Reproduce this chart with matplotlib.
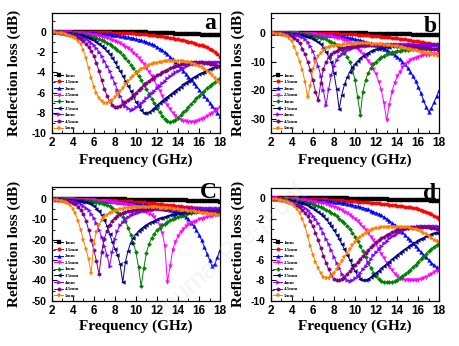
import numpy as np
import matplotlib
matplotlib.use('Agg')
import matplotlib.pyplot as plt
from matplotlib.ticker import MultipleLocator

plt.rcParams['font.family'] = ['Liberation Sans', 'DejaVu Sans']
plt.rcParams['font.weight'] = 'bold'
plt.rcParams['axes.unicode_minus'] = False

# frequency sweep 2-18 GHz, 0.25 GHz step
freq = np.linspace(2, 18, 65)
thickness = ['1mm', '1.5mm', '2mm', '2.5mm', '3mm', '3.5mm', '4mm', '4.5mm', '5mm']

# ---- (a) reflection loss, dB
a_1mm = [0, 0, 0, 0, 0, 0, 0, 0,
         0, 0, 0, 0, 0, 0, 0, 0,
         0, 0, 0, 0, 0, 0, -0.01, -0.01,
         -0.02, -0.02, -0.03, -0.03, -0.04, -0.04, -0.05, -0.05,
         -0.06, -0.06, -0.07, -0.07, -0.08, -0.09, -0.1, -0.11,
         -0.12, -0.13, -0.14, -0.15, -0.16, -0.17, -0.18, -0.19,
         -0.2, -0.21, -0.22, -0.23, -0.24, -0.25, -0.26, -0.27,
         -0.28, -0.29, -0.3, -0.31, -0.32, -0.33, -0.34, -0.35,
         -0.36]
a_15mm = [0, 0, 0, 0, 0, 0, 0, 0,
          -0.01, -0.01, -0.01, -0.01, -0.02, -0.02, -0.03, -0.03,
          -0.04, -0.04, -0.05, -0.05, -0.06, -0.07, -0.08, -0.09,
          -0.1, -0.11, -0.12, -0.13, -0.14, -0.15, -0.17, -0.18,
          -0.2, -0.22, -0.24, -0.26, -0.28, -0.3, -0.33, -0.36,
          -0.4, -0.44, -0.48, -0.52, -0.56, -0.6, -0.65, -0.7,
          -0.75, -0.81, -0.87, -0.93, -1.0, -1.06, -1.13, -1.2,
          -1.28, -1.36, -1.45, -1.55, -1.68, -1.83, -2.0, -2.2,
          -2.45]
a_2mm = [0, -0.01, -0.01, -0.02, -0.02, -0.03, -0.03, -0.04,
         -0.05, -0.06, -0.07, -0.08, -0.09, -0.1, -0.12, -0.13,
         -0.15, -0.17, -0.19, -0.21, -0.23, -0.25, -0.28, -0.31,
         -0.34, -0.37, -0.41, -0.45, -0.5, -0.55, -0.6, -0.66,
         -0.72, -0.79, -0.86, -0.94, -1.03, -1.13, -1.23, -1.36,
         -1.5, -1.67, -1.85, -2.05, -2.25, -2.47, -2.7, -2.97,
         -3.25, -3.55, -3.85, -4.15, -4.45, -4.75, -5.05, -5.37,
         -5.7, -6.02, -6.35, -6.67, -7.0, -7.32, -7.65, -7.97,
         -8.3]
a_25mm = [0, -0.01, -0.02, -0.03, -0.04, -0.05, -0.07, -0.08,
          -0.1, -0.12, -0.14, -0.16, -0.19, -0.22, -0.25, -0.29,
          -0.33, -0.38, -0.43, -0.49, -0.56, -0.64, -0.73, -0.83,
          -0.93, -1.05, -1.17, -1.31, -1.47, -1.65, -1.85, -2.07,
          -2.3, -2.57, -2.85, -3.2, -3.55, -3.95, -4.35, -4.8,
          -5.3, -5.8, -6.3, -6.8, -7.25, -7.65, -8.0, -8.28,
          -8.5, -8.65, -8.75, -8.82, -8.85, -8.86, -8.85, -8.8,
          -8.7, -8.58, -8.45, -8.3, -8.15, -7.98, -7.8, -7.6,
          -7.4]
a_3mm = [-0.02, -0.03, -0.04, -0.05, -0.07, -0.09, -0.11, -0.13,
         -0.16, -0.19, -0.23, -0.27, -0.32, -0.37, -0.43, -0.5,
         -0.57, -0.66, -0.75, -0.86, -0.97, -1.1, -1.25, -1.42,
         -1.6, -1.82, -2.05, -2.32, -2.6, -2.92, -3.25, -3.6,
         -3.95, -4.35, -4.75, -5.2, -5.65, -6.12, -6.6, -7.05,
         -7.5, -7.92, -8.3, -8.6, -8.8, -8.85, -8.8, -8.65,
         -8.45, -8.2, -7.95, -7.68, -7.4, -7.12, -6.85, -6.57,
         -6.3, -6.05, -5.8, -5.57, -5.35, -5.15, -4.95, -4.77,
         -4.6]
a_35mm = [-0.02, -0.03, -0.05, -0.07, -0.09, -0.11, -0.14, -0.17,
          -0.21, -0.25, -0.3, -0.36, -0.42, -0.5, -0.6, -0.72,
          -0.85, -1.02, -1.2, -1.42, -1.65, -1.93, -2.25, -2.6,
          -3.0, -3.45, -3.9, -4.37, -4.85, -5.32, -5.8, -6.35,
          -6.9, -7.35, -7.75, -7.98, -8.05, -7.95, -7.75, -7.5,
          -7.25, -7.02, -6.8, -6.6, -6.4, -6.2, -6.0, -5.8,
          -5.6, -5.4, -5.2, -5.02, -4.85, -4.67, -4.5, -4.35,
          -4.2, -4.07, -3.95, -3.82, -3.7, -3.6, -3.5, -3.42,
          -3.35]
a_4mm = [-0.03, -0.04, -0.06, -0.08, -0.11, -0.14, -0.18, -0.23,
         -0.28, -0.35, -0.42, -0.51, -0.62, -0.75, -0.9, -1.1,
         -1.35, -1.65, -2.0, -2.42, -2.9, -3.4, -3.9, -4.5,
         -5.1, -5.7, -6.3, -6.85, -7.3, -7.55, -7.68, -7.62,
         -7.45, -7.25, -7.05, -6.8, -6.55, -6.3, -6.05, -5.8,
         -5.55, -5.3, -5.05, -4.82, -4.6, -4.4, -4.2, -4.02,
         -3.85, -3.7, -3.55, -3.42, -3.3, -3.22, -3.15, -3.1,
         -3.05, -3.02, -3.0, -2.98, -2.96, -2.95, -2.95, -2.95,
         -2.95]
a_45mm = [-0.04, -0.06, -0.08, -0.11, -0.14, -0.19, -0.24, -0.3,
          -0.38, -0.48, -0.6, -0.75, -0.95, -1.2, -1.5, -1.9,
          -2.4, -3.1, -3.9, -4.8, -5.6, -6.3, -6.85, -7.2,
          -7.4, -7.4, -7.3, -7.15, -6.95, -6.73, -6.5, -6.25,
          -6.0, -5.75, -5.5, -5.27, -5.05, -4.85, -4.65, -4.47,
          -4.3, -4.15, -4.0, -3.87, -3.75, -3.62, -3.5, -3.4,
          -3.3, -3.22, -3.15, -3.1, -3.05, -3.02, -3.0, -3.0,
          -3.0, -3.02, -3.05, -3.1, -3.15, -3.22, -3.3, -3.4,
          -3.5]
a_5mm = [-0.05, -0.07, -0.1, -0.14, -0.18, -0.23, -0.3, -0.39,
         -0.5, -0.67, -0.9, -1.25, -1.8, -2.6, -3.6, -4.55,
         -5.4, -6.05, -6.55, -6.85, -7.0, -7.0, -6.9, -6.7,
         -6.45, -6.15, -5.85, -5.52, -5.2, -4.9, -4.6, -4.35,
         -4.1, -3.9, -3.7, -3.55, -3.4, -3.3, -3.2, -3.12,
         -3.05, -3.0, -2.95, -2.92, -2.9, -2.88, -2.85, -2.85,
         -2.85, -2.87, -2.9, -2.95, -3.0, -3.07, -3.15, -3.25,
         -3.35, -3.5, -3.65, -3.85, -4.05, -4.3, -4.55, -4.82,
         -5.1]

# ---- (b)
b_1mm = [0, 0, 0, 0, 0, 0, 0, 0,
         0, 0, 0, 0, 0, 0, 0, 0,
         -0.01, -0.01, -0.02, -0.02, -0.03, -0.03, -0.04, -0.04,
         -0.05, -0.06, -0.07, -0.08, -0.09, -0.1, -0.12, -0.13,
         -0.15, -0.16, -0.18, -0.2, -0.22, -0.24, -0.26, -0.28,
         -0.3, -0.32, -0.34, -0.36, -0.38, -0.4, -0.42, -0.44,
         -0.46, -0.48, -0.5, -0.52, -0.55, -0.57, -0.6, -0.62,
         -0.65, -0.68, -0.71, -0.74, -0.77, -0.8, -0.83, -0.86,
         -0.9]
b_15mm = [0, 0, 0, 0, 0, 0, -0.01, -0.01,
          -0.01, -0.02, -0.02, -0.03, -0.03, -0.04, -0.04, -0.05,
          -0.05, -0.06, -0.07, -0.08, -0.1, -0.12, -0.14, -0.17,
          -0.2, -0.23, -0.27, -0.31, -0.35, -0.4, -0.45, -0.5,
          -0.55, -0.61, -0.67, -0.73, -0.8, -0.87, -0.95, -1.02,
          -1.1, -1.2, -1.3, -1.4, -1.5, -1.61, -1.72, -1.83,
          -1.95, -2.07, -2.2, -2.32, -2.45, -2.58, -2.72, -2.86,
          -3.0, -3.15, -3.3, -3.45, -3.6, -3.75, -3.9, -4.05,
          -4.2]
b_2mm = [0, -0.01, -0.02, -0.03, -0.04, -0.05, -0.07, -0.08,
         -0.1, -0.12, -0.15, -0.17, -0.2, -0.23, -0.27, -0.31,
         -0.35, -0.4, -0.45, -0.51, -0.57, -0.64, -0.72, -0.8,
         -0.9, -1.0, -1.12, -1.25, -1.4, -1.57, -1.75, -1.95,
         -2.15, -2.37, -2.6, -2.85, -3.1, -3.4, -3.7, -4.02,
         -4.35, -4.7, -5.1, -5.55, -6.0, -6.55, -7.1, -7.75,
         -8.4, -9.15, -10.0, -11.0, -12.2, -13.5, -15.0, -16.8,
         -18.8, -21.0, -23.5, -25.8, -27.5, -26.3, -24.2, -22.0,
         -20.0]
b_25mm = [0, -0.01, -0.02, -0.03, -0.05, -0.07, -0.09, -0.11,
          -0.14, -0.17, -0.2, -0.24, -0.28, -0.33, -0.38, -0.44,
          -0.5, -0.58, -0.66, -0.75, -0.86, -0.98, -1.12, -1.28,
          -1.45, -1.65, -1.9, -2.2, -2.55, -2.95, -3.4, -4.05,
          -4.8, -5.6, -6.5, -7.5, -8.5, -9.7, -11.0, -12.6,
          -14.5, -17.0, -20.0, -24.5, -30.5, -25.0, -20.5, -17.5,
          -15.2, -13.5, -12.0, -11.0, -10.2, -9.55, -9.0, -8.6,
          -8.3, -8.05, -7.85, -7.7, -7.6, -7.52, -7.45, -7.4,
          -7.35]
b_3mm = [-0.02, -0.03, -0.05, -0.07, -0.09, -0.12, -0.15, -0.19,
         -0.23, -0.28, -0.34, -0.42, -0.5, -0.6, -0.7, -0.85,
         -1.0, -1.2, -1.4, -1.65, -1.95, -2.3, -2.7, -3.15,
         -3.7, -4.3, -5.0, -5.9, -7.0, -8.4, -10.0, -12.5,
         -16.5, -22.5, -28.5, -20.5, -16.5, -14.0, -12.3, -11.0,
         -10.0, -9.2, -8.5, -7.95, -7.5, -7.15, -6.85, -6.6,
         -6.4, -6.22, -6.07, -5.95, -5.85, -5.77, -5.7, -5.64,
         -5.6, -5.55, -5.52, -5.5, -5.5, -5.5, -5.5, -5.5,
         -5.5]
b_35mm = [-0.03, -0.05, -0.07, -0.1, -0.13, -0.17, -0.22, -0.28,
          -0.35, -0.44, -0.55, -0.68, -0.85, -1.05, -1.3, -1.6,
          -2.0, -2.55, -3.2, -4.0, -5.3, -6.7, -8.3, -10.2,
          -14.0, -19.5, -26.5, -21.5, -18.0, -15.5, -13.6, -12.0,
          -10.8, -9.8, -8.9, -8.15, -7.5, -6.95, -6.5, -6.1,
          -5.8, -5.52, -5.28, -5.08, -4.92, -4.78, -4.66, -4.56,
          -4.48, -4.42, -4.37, -4.33, -4.3, -4.28, -4.27, -4.26,
          -4.25, -4.25, -4.25, -4.25, -4.25, -4.26, -4.27, -4.28,
          -4.3]
b_4mm = [-0.03, -0.05, -0.08, -0.11, -0.16, -0.22, -0.29, -0.38,
         -0.5, -0.68, -0.9, -1.2, -1.6, -2.3, -3.3, -4.7,
         -6.5, -8.8, -11.5, -15.0, -20.0, -25.3, -19.5, -14.8,
         -11.5, -9.5, -8.2, -7.3, -6.65, -6.1, -5.65, -5.3,
         -5.05, -4.85, -4.7, -4.57, -4.47, -4.38, -4.3, -4.23,
         -4.17, -4.12, -4.08, -4.05, -4.02, -4.0, -3.98, -3.97,
         -3.96, -3.96, -3.97, -3.98, -4.0, -4.02, -4.05, -4.08,
         -4.11, -4.14, -4.18, -4.22, -4.26, -4.3, -4.34, -4.38,
         -4.42]
b_45mm = [-0.06, -0.1, -0.15, -0.22, -0.3, -0.42, -0.6, -0.85,
          -1.2, -1.7, -2.5, -3.7, -5.5, -7.5, -10.0, -13.0,
          -16.5, -20.5, -23.5, -17.5, -12.5, -10.2, -8.5, -7.5,
          -6.8, -6.25, -5.8, -5.45, -5.2, -4.98, -4.8, -4.65,
          -4.5, -4.4, -4.3, -4.25, -4.2, -4.17, -4.15, -4.15,
          -4.15, -4.17, -4.2, -4.22, -4.25, -4.3, -4.35, -4.4,
          -4.45, -4.52, -4.6, -4.67, -4.75, -4.82, -4.9, -4.97,
          -5.05, -5.15, -5.25, -5.35, -5.45, -5.55, -5.65, -5.75,
          -5.85]
b_5mm = [-0.1, -0.15, -0.25, -0.38, -0.55, -0.8, -1.2, -1.9,
         -3.0, -4.8, -7.5, -10.0, -13.0, -17.0, -22.5, -18.5,
         -12.5, -10.0, -8.2, -6.9, -6.0, -5.45, -5.0, -4.75,
         -4.5, -4.35, -4.2, -4.1, -4.0, -3.92, -3.85, -3.8,
         -3.75, -3.72, -3.7, -3.7, -3.7, -3.72, -3.75, -3.8,
         -3.85, -3.92, -4.0, -4.1, -4.2, -4.32, -4.45, -4.6,
         -4.75, -4.92, -5.1, -5.3, -5.5, -5.7, -5.9, -6.1,
         -6.3, -6.52, -6.75, -6.97, -7.2, -7.4, -7.6, -7.8,
         -8.0]

# ---- (c)
c_1mm = [0, 0, 0, 0, 0, 0, 0, 0,
         0, 0, 0, 0, 0, -0.01, -0.01, -0.02,
         -0.02, -0.03, -0.04, -0.05, -0.05, -0.06, -0.08, -0.09,
         -0.1, -0.11, -0.12, -0.14, -0.15, -0.16, -0.17, -0.19,
         -0.2, -0.22, -0.24, -0.26, -0.28, -0.3, -0.32, -0.34,
         -0.36, -0.38, -0.4, -0.43, -0.45, -0.47, -0.5, -0.52,
         -0.55, -0.58, -0.6, -0.63, -0.66, -0.7, -0.73, -0.76,
         -0.8, -0.84, -0.87, -0.91, -0.95, -1.0, -1.05, -1.1,
         -1.15]
c_15mm = [0, 0, -0.01, -0.01, -0.02, -0.03, -0.04, -0.05,
          -0.06, -0.07, -0.09, -0.1, -0.12, -0.14, -0.17, -0.19,
          -0.22, -0.26, -0.3, -0.34, -0.38, -0.43, -0.49, -0.54,
          -0.6, -0.67, -0.75, -0.82, -0.9, -1.0, -1.1, -1.2,
          -1.3, -1.41, -1.52, -1.63, -1.75, -1.87, -2.0, -2.12,
          -2.25, -2.38, -2.52, -2.66, -2.8, -2.94, -3.07, -3.21,
          -3.35, -3.49, -3.62, -3.76, -3.9, -4.04, -4.17, -4.31,
          -4.45, -4.59, -4.72, -4.86, -5.0, -5.12, -5.25, -5.37,
          -5.5]
c_2mm = [0, -0.01, -0.02, -0.03, -0.04, -0.06, -0.08, -0.1,
         -0.12, -0.15, -0.18, -0.21, -0.25, -0.29, -0.33, -0.38,
         -0.43, -0.49, -0.55, -0.62, -0.7, -0.78, -0.87, -0.97,
         -1.08, -1.2, -1.32, -1.45, -1.6, -1.75, -1.9, -2.07,
         -2.25, -2.43, -2.62, -2.82, -3.02, -3.22, -3.42, -3.62,
         -3.82, -4.1, -4.4, -4.7, -5.0, -5.3, -5.6, -5.95,
         -6.3, -6.9, -7.6, -8.7, -10.0, -11.5, -13.2, -15.2,
         -17.5, -20.3, -23.5, -26.8, -30.0, -33.0, -32.0, -28.5,
         -25.0]
c_25mm = [0, -0.01, -0.02, -0.03, -0.05, -0.07, -0.09, -0.12,
          -0.15, -0.18, -0.22, -0.26, -0.31, -0.36, -0.42, -0.49,
          -0.57, -0.66, -0.76, -0.87, -1.0, -1.13, -1.27, -1.43,
          -1.6, -1.8, -2.0, -2.25, -2.5, -2.8, -3.1, -3.5,
          -3.9, -4.45, -5.05, -5.7, -6.4, -7.1, -7.9, -9.0,
          -10.5, -12.8, -16.5, -23.0, -41.0, -33.0, -25.0, -21.0,
          -18.0, -16.0, -14.5, -13.3, -12.4, -11.6, -11.0, -10.5,
          -10.0, -9.6, -9.2, -8.8, -8.45, -8.15, -7.9, -7.7,
          -7.55]
c_3mm = [-0.02, -0.04, -0.06, -0.08, -0.1, -0.13, -0.17, -0.21,
         -0.26, -0.32, -0.39, -0.47, -0.56, -0.67, -0.8, -0.95,
         -1.2, -1.45, -1.75, -2.1, -2.5, -3.0, -3.6, -4.3,
         -5.1, -6.2, -7.4, -8.8, -10.5, -14.0, -17.5, -21.5,
         -26.0, -33.5, -43.0, -34.0, -26.5, -22.0, -19.0, -17.0,
         -15.3, -14.0, -12.9, -12.0, -11.2, -10.4, -9.7, -9.1,
         -8.6, -8.1, -7.65, -7.25, -6.9, -6.6, -6.35, -6.15,
         -5.95, -5.8, -5.65, -5.55, -5.45, -5.35, -5.25, -5.15,
         -5.1]
c_35mm = [-0.04, -0.07, -0.1, -0.14, -0.19, -0.25, -0.32, -0.41,
          -0.52, -0.65, -0.8, -0.98, -1.2, -1.5, -1.9, -2.5,
          -3.4, -4.6, -6.0, -7.9, -10.3, -13.2, -17.0, -21.0,
          -24.5, -27.5, -32.0, -41.0, -31.0, -25.5, -21.5, -19.0,
          -17.2, -15.7, -14.5, -13.5, -12.6, -11.9, -11.2, -10.6,
          -10.0, -9.5, -9.1, -8.7, -8.3, -7.95, -7.6, -7.25,
          -6.95, -6.7, -6.5, -6.3, -6.15, -6.0, -5.9, -5.8,
          -5.72, -5.66, -5.6, -5.56, -5.53, -5.5, -5.48, -5.47,
          -5.46]
c_4mm = [-0.06, -0.1, -0.15, -0.22, -0.3, -0.41, -0.55, -0.75,
         -1.0, -1.35, -1.8, -2.4, -3.2, -4.2, -5.5, -7.2,
         -9.2, -11.8, -15.0, -18.8, -23.0, -27.5, -33.0, -26.0,
         -19.5, -15.5, -12.8, -11.0, -9.6, -8.6, -7.8, -7.2,
         -6.7, -6.3, -6.0, -5.72, -5.5, -5.3, -5.1, -4.97,
         -4.85, -4.75, -4.65, -4.57, -4.5, -4.45, -4.4, -4.37,
         -4.35, -4.32, -4.3, -4.3, -4.3, -4.3, -4.3, -4.3,
         -4.3, -4.32, -4.35, -4.37, -4.4, -4.42, -4.45, -4.47,
         -4.5]
c_45mm = [-0.1, -0.16, -0.25, -0.36, -0.5, -0.7, -0.95, -1.3,
          -1.8, -2.6, -3.7, -5.3, -7.5, -10.5, -15.0, -20.0,
          -25.0, -30.5, -37.0, -26.0, -19.5, -15.5, -12.5, -10.5,
          -9.2, -8.2, -7.4, -6.8, -6.3, -5.9, -5.6, -5.32,
          -5.1, -4.95, -4.8, -4.72, -4.65, -4.6, -4.55, -4.55,
          -4.55, -4.57, -4.6, -4.65, -4.7, -4.77, -4.85, -4.92,
          -5.0, -5.1, -5.2, -5.3, -5.4, -5.5, -5.6, -5.7,
          -5.8, -5.9, -6.0, -6.1, -6.2, -6.3, -6.4, -6.5,
          -6.6]
c_5mm = [-0.2, -0.3, -0.45, -0.65, -0.9, -1.25, -1.7, -2.9,
         -4.6, -7.0, -10.5, -15.0, -20.0, -24.5, -29.5, -36.5,
         -22.0, -16.0, -12.5, -10.2, -8.7, -7.6, -6.8, -6.15,
         -5.6, -5.2, -4.9, -4.62, -4.4, -4.22, -4.1, -3.98,
         -3.9, -3.87, -3.85, -3.85, -3.85, -3.87, -3.9, -3.95,
         -4.0, -4.1, -4.2, -4.3, -4.4, -4.55, -4.7, -4.85,
         -5.0, -5.17, -5.35, -5.52, -5.7, -5.87, -6.05, -6.22,
         -6.4, -6.57, -6.75, -6.92, -7.1, -7.27, -7.45, -7.62,
         -7.8]

# ---- (d)
d_1mm = [0, 0, 0, 0, 0, 0, 0, 0,
         0, 0, 0, 0, 0, 0, 0, 0,
         0, 0, 0, 0, 0, 0, 0, 0,
         0, 0, -0.01, -0.01, -0.02, -0.02, -0.03, -0.03,
         -0.04, -0.04, -0.05, -0.05, -0.06, -0.07, -0.08, -0.08,
         -0.09, -0.1, -0.11, -0.11, -0.12, -0.13, -0.13, -0.14,
         -0.15, -0.15, -0.16, -0.17, -0.18, -0.18, -0.19, -0.2,
         -0.2, -0.21, -0.21, -0.22, -0.22, -0.23, -0.24, -0.24,
         -0.25]
d_15mm = [0, 0, 0, 0, 0, 0, -0.01, -0.01,
          -0.01, -0.02, -0.02, -0.03, -0.03, -0.04, -0.04, -0.05,
          -0.06, -0.07, -0.08, -0.09, -0.1, -0.11, -0.13, -0.14,
          -0.16, -0.17, -0.19, -0.21, -0.23, -0.25, -0.27, -0.29,
          -0.31, -0.33, -0.35, -0.37, -0.39, -0.41, -0.43, -0.45,
          -0.47, -0.5, -0.53, -0.56, -0.59, -0.62, -0.65, -0.68,
          -0.71, -0.74, -0.78, -0.82, -0.86, -0.9, -0.95, -1.0,
          -1.06, -1.13, -1.2, -1.3, -1.42, -1.56, -1.72, -1.88,
          -2.05]
d_2mm = [0, -0.01, -0.01, -0.02, -0.02, -0.03, -0.03, -0.04,
         -0.05, -0.06, -0.07, -0.08, -0.09, -0.1, -0.12, -0.13,
         -0.15, -0.17, -0.19, -0.21, -0.23, -0.25, -0.28, -0.31,
         -0.34, -0.37, -0.41, -0.45, -0.49, -0.54, -0.59, -0.65,
         -0.71, -0.78, -0.85, -0.93, -1.01, -1.1, -1.2, -1.31,
         -1.42, -1.55, -1.68, -1.83, -2.0, -2.18, -2.37, -2.58,
         -2.8, -3.05, -3.3, -3.57, -3.85, -4.12, -4.4, -4.68,
         -4.95, -5.22, -5.5, -5.77, -6.03, -6.28, -6.52, -6.75,
         -6.95]
d_25mm = [0, -0.01, -0.02, -0.03, -0.04, -0.05, -0.07, -0.08,
          -0.1, -0.12, -0.14, -0.16, -0.19, -0.22, -0.25, -0.29,
          -0.33, -0.37, -0.42, -0.46, -0.5, -0.56, -0.63, -0.72,
          -0.82, -0.92, -1.04, -1.16, -1.3, -1.45, -1.62, -1.8,
          -2.0, -2.25, -2.5, -2.8, -3.1, -3.4, -3.75, -4.1,
          -4.5, -4.95, -5.4, -5.85, -6.3, -6.7, -7.05, -7.35,
          -7.6, -7.78, -7.9, -7.97, -8.0, -8.02, -8.03, -8.02,
          -7.98, -7.9, -7.8, -7.67, -7.52, -7.37, -7.22, -7.08,
          -6.95]
d_3mm = [-0.02, -0.03, -0.04, -0.05, -0.07, -0.09, -0.11, -0.13,
         -0.16, -0.19, -0.23, -0.27, -0.32, -0.37, -0.43, -0.5,
         -0.58, -0.67, -0.77, -0.88, -1.0, -1.12, -1.25, -1.4,
         -1.55, -1.75, -1.98, -2.2, -2.45, -2.7, -3.0, -3.35,
         -3.75, -4.2, -4.65, -5.2, -5.75, -6.3, -6.8, -7.25,
         -7.6, -7.85, -8.05, -8.15, -8.2, -8.22, -8.18, -8.1,
         -7.98, -7.82, -7.64, -7.43, -7.2, -6.97, -6.72, -6.47,
         -6.2, -5.95, -5.7, -5.45, -5.2, -4.95, -4.73, -4.55,
         -4.4]
d_35mm = [-0.02, -0.04, -0.06, -0.08, -0.1, -0.13, -0.16, -0.2,
          -0.25, -0.3, -0.36, -0.43, -0.51, -0.6, -0.7, -0.82,
          -0.96, -1.12, -1.3, -1.52, -1.77, -2.05, -2.37, -2.75,
          -3.15, -3.57, -4.0, -4.5, -5.0, -5.5, -6.0, -6.55,
          -7.1, -7.55, -7.85, -8.0, -8.0, -7.88, -7.7, -7.5,
          -7.28, -7.06, -6.84, -6.62, -6.4, -6.18, -5.96, -5.75,
          -5.55, -5.35, -5.15, -4.96, -4.78, -4.6, -4.43, -4.27,
          -4.12, -3.98, -3.85, -3.73, -3.62, -3.52, -3.43, -3.35,
          -3.28]
d_4mm = [-0.03, -0.05, -0.07, -0.1, -0.13, -0.17, -0.22, -0.28,
         -0.35, -0.43, -0.53, -0.65, -0.79, -0.96, -1.16, -1.4,
         -1.7, -2.05, -2.45, -2.9, -3.4, -3.95, -4.5, -5.1,
         -5.7, -6.3, -6.85, -7.35, -7.75, -8.02, -8.1, -8.0,
         -7.8, -7.55, -7.25, -6.92, -6.58, -6.25, -5.9, -5.57,
         -5.25, -4.95, -4.66, -4.4, -4.15, -3.93, -3.73, -3.55,
         -3.4, -3.26, -3.14, -3.04, -2.95, -2.88, -2.82, -2.77,
         -2.73, -2.7, -2.68, -2.67, -2.67, -2.68, -2.7, -2.73,
         -2.77]
d_45mm = [-0.04, -0.06, -0.09, -0.12, -0.16, -0.21, -0.27, -0.35,
          -0.45, -0.57, -0.72, -0.9, -1.12, -1.4, -1.75, -2.2,
          -2.75, -3.4, -4.1, -4.85, -5.6, -6.3, -6.95, -7.5,
          -7.9, -8.02, -7.98, -7.85, -7.65, -7.4, -7.13, -6.85,
          -6.55, -6.25, -5.95, -5.65, -5.35, -5.07, -4.8, -4.55,
          -4.32, -4.12, -3.93, -3.76, -3.6, -3.46, -3.34, -3.23,
          -3.13, -3.04, -2.97, -2.91, -2.86, -2.82, -2.79, -2.77,
          -2.76, -2.76, -2.77, -2.79, -2.82, -2.86, -2.91, -2.97,
          -3.05]
d_5mm = [-0.05, -0.07, -0.1, -0.14, -0.19, -0.25, -0.33, -0.44,
         -0.58, -0.78, -1.05, -1.45, -2.0, -2.75, -3.7, -4.65,
         -5.5, -6.2, -6.8, -7.3, -7.65, -7.8, -7.75, -7.55,
         -7.25, -6.9, -6.5, -6.1, -5.7, -5.3, -4.92, -4.57,
         -4.25, -3.98, -3.75, -3.55, -3.38, -3.24, -3.12, -3.02,
         -2.95, -2.89, -2.85, -2.82, -2.8, -2.78, -2.77, -2.77,
         -2.77, -2.78, -2.8, -2.82, -2.85, -2.9, -2.96, -3.04,
         -3.13, -3.24, -3.37, -3.52, -3.68, -3.86, -4.05, -4.22,
         -4.3]

panel_data = {
    'a': [a_1mm, a_15mm, a_2mm, a_25mm, a_3mm, a_35mm, a_4mm, a_45mm, a_5mm],
    'b': [b_1mm, b_15mm, b_2mm, b_25mm, b_3mm, b_35mm, b_4mm, b_45mm, b_5mm],
    'C': [c_1mm, c_15mm, c_2mm, c_25mm, c_3mm, c_35mm, c_4mm, c_45mm, c_5mm],
    'd': [d_1mm, d_15mm, d_2mm, d_25mm, d_3mm, d_35mm, d_4mm, d_45mm, d_5mm],
}

colors = ['#000000', '#ff0000', '#0000ff', '#ff00ff', '#008000',
          '#000080', '#8000ff', '#800080', '#ff8000']
markers = ['s', 'o', '^', 'v', 'D', '<', '>', 'h', '*']
msizes = [2.4, 2.6, 2.8, 2.8, 2.2, 2.8, 2.8, 2.8, 3.6]

# axes rect, y range, y major/minor step, letter xy, ylabel x, xlabel y
layout = {
    'a': ([0.1124, 0.6147, 0.366, 0.3469], (-10, 1.8), 2, 1, (0.94, 0.87), -0.18, -0.166),
    'b': ([0.5885, 0.6147, 0.3665, 0.3469], (-35, 6.8), 10, 5, (0.945, 0.845), -0.155, -0.166),
    'C': ([0.1124, 0.131, 0.366, 0.3285], (-50, 6), 10, 5, (0.93, 0.9), -0.18, -0.165),
    'd': ([0.5885, 0.131, 0.3665, 0.3257], (-10, 1), 2, 1, (0.945, 0.905), -0.155, -0.17),
}

serif = {'family': 'Liberation Serif', 'weight': 'bold'}

fig = plt.figure(figsize=(4.6, 3.46), dpi=100)

for key, curves in panel_data.items():
    rect, ylim, ymaj, ymin, letter_xy, ylab_x, xlab_y = layout[key]
    ax = fig.add_axes(rect)
    for vals, lab, c, m, s in zip(curves, thickness, colors, markers, msizes):
        ax.plot(freq, vals, color=c, marker=m, ms=s, lw=0.7, mew=0.2, mec=c, label=lab)

    ax.set_xlim(2, 18)
    ax.set_ylim(*ylim)
    ax.xaxis.set_major_locator(MultipleLocator(2))
    ax.xaxis.set_minor_locator(MultipleLocator(1))
    ax.yaxis.set_major_locator(MultipleLocator(ymaj))
    ax.yaxis.set_minor_locator(MultipleLocator(ymin))
    ax.tick_params(which='both', direction='in', top=False, right=False)
    ax.tick_params(which='major', length=3.5, width=0.8)
    ax.tick_params(which='minor', length=2, width=0.6)
    ax.tick_params(axis='x', labelsize=8.5, pad=3)
    ax.tick_params(axis='y', labelsize=7.5, pad=4)
    for sp in ax.spines.values():
        sp.set_linewidth(0.9)

    ax.set_xlabel('Frequency (GHz)', fontsize=11, **serif)
    ax.set_ylabel('Reflection loss (dB)', fontsize=11, **serif)
    ax.xaxis.set_label_coords(0.5, xlab_y)
    ax.yaxis.set_label_coords(ylab_x, 0.5)
    ax.xaxis.label.set_va('top')

    ax.text(letter_xy[0], letter_xy[1], key, transform=ax.transAxes,
            ha='center', va='baseline', fontsize=17, **serif)

    ax.legend(loc='lower left', bbox_to_anchor=(0.015, 0.025), frameon=False,
              prop={'family': 'Liberation Serif', 'weight': 'bold', 'size': 3.5},
              handlelength=1.9, handletextpad=0.3, labelspacing=0.45,
              borderpad=0, borderaxespad=0)

# faint diagonal watermark
fig.text(0.5, 0.27, 'Journal Pre-proof', rotation=41, ha='center', va='center',
         fontsize=18, color='#c8c8c8', alpha=0.22, family='Liberation Sans',
         weight='normal', zorder=10)

fig.savefig('out.png', dpi=100)
